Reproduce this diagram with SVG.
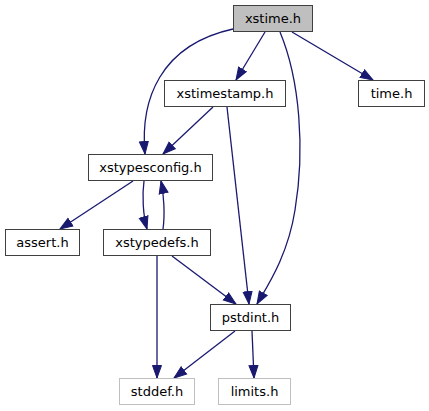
<svg xmlns="http://www.w3.org/2000/svg" width="429" height="411" viewBox="0 0 429 411">
<style>
.node rect{fill:#ffffff;stroke:#404040;stroke-width:1}
.node.cur rect{fill:#bfbfbf}
.node.ext rect{stroke:#bfbfbf}
.node text{font-family:"DejaVu Sans","Liberation Sans",sans-serif;font-size:13px;fill:#000000;text-anchor:middle}
.edges path{fill:none;stroke:#191970;stroke-width:1.3}
</style>
<defs>
<marker id="arr" markerUnits="userSpaceOnUse" markerWidth="14" markerHeight="11" refX="13" refY="5.5" orient="auto" viewBox="0 0 14 11">
<path d="M0.5,1 L13,5.5 L0.5,10 z" fill="#191970" stroke="#191970" stroke-width="1"/>
</marker>
</defs>
<rect width="429" height="411" fill="#ffffff"/>
<g class="edges">
<path marker-end="url(#arr)" d="M265,32 L236,80"/>
<path marker-end="url(#arr)" d="M292,32 L373,80"/>
<path marker-end="url(#arr)" d="M233,29 C160,45 140,100 145,154"/>
<path marker-end="url(#arr)" d="M280,32 C300,80 305,150 295,210 C288,255 268,285 257,304"/>
<path marker-end="url(#arr)" d="M213,107 L163,154"/>
<path marker-end="url(#arr)" d="M227,107 L249,304"/>
<path marker-end="url(#arr)" d="M133,181 L60,229"/>
<path marker-end="url(#arr)" d="M144,181 C142,195 143,215 147,229"/>
<path marker-end="url(#arr)" d="M163,229 C165,215 164,195 161,181"/>
<path marker-end="url(#arr)" d="M172,256 L236,304"/>
<path marker-end="url(#arr)" d="M157,256 L157,378"/>
<path marker-end="url(#arr)" d="M235,331 L174,378"/>
<path marker-end="url(#arr)" d="M252,331 L254,378"/>
</g>
<g id="node_xstime" class="node cur"><rect x="233.5" y="5.5" width="79" height="26"/><text x="273" y="23">xstime.h</text></g>
<g id="node_xstimestamp" class="node"><rect x="164.5" y="80.5" width="121" height="26"/><text x="225" y="98">xstimestamp.h</text></g>
<g id="node_time" class="node"><rect x="358.5" y="80.5" width="66" height="26"/><text x="391.5" y="98">time.h</text></g>
<g id="node_xstypesconfig" class="node"><rect x="88.5" y="154.5" width="124" height="26"/><text x="150.5" y="172">xstypesconfig.h</text></g>
<g id="node_assert" class="node"><rect x="5.5" y="229.5" width="74" height="26"/><text x="42.5" y="247">assert.h</text></g>
<g id="node_xstypedefs" class="node"><rect x="103.5" y="229.5" width="107" height="26"/><text x="157" y="247">xstypedefs.h</text></g>
<g id="node_pstdint" class="node"><rect x="210.5" y="304.5" width="80" height="26"/><text x="250.5" y="322">pstdint.h</text></g>
<g id="node_stddef" class="node ext"><rect x="119.5" y="378.5" width="75" height="26"/><text x="157" y="396">stddef.h</text></g>
<g id="node_limits" class="node ext"><rect x="218.5" y="378.5" width="72" height="26"/><text x="254.5" y="396">limits.h</text></g>
</svg>
